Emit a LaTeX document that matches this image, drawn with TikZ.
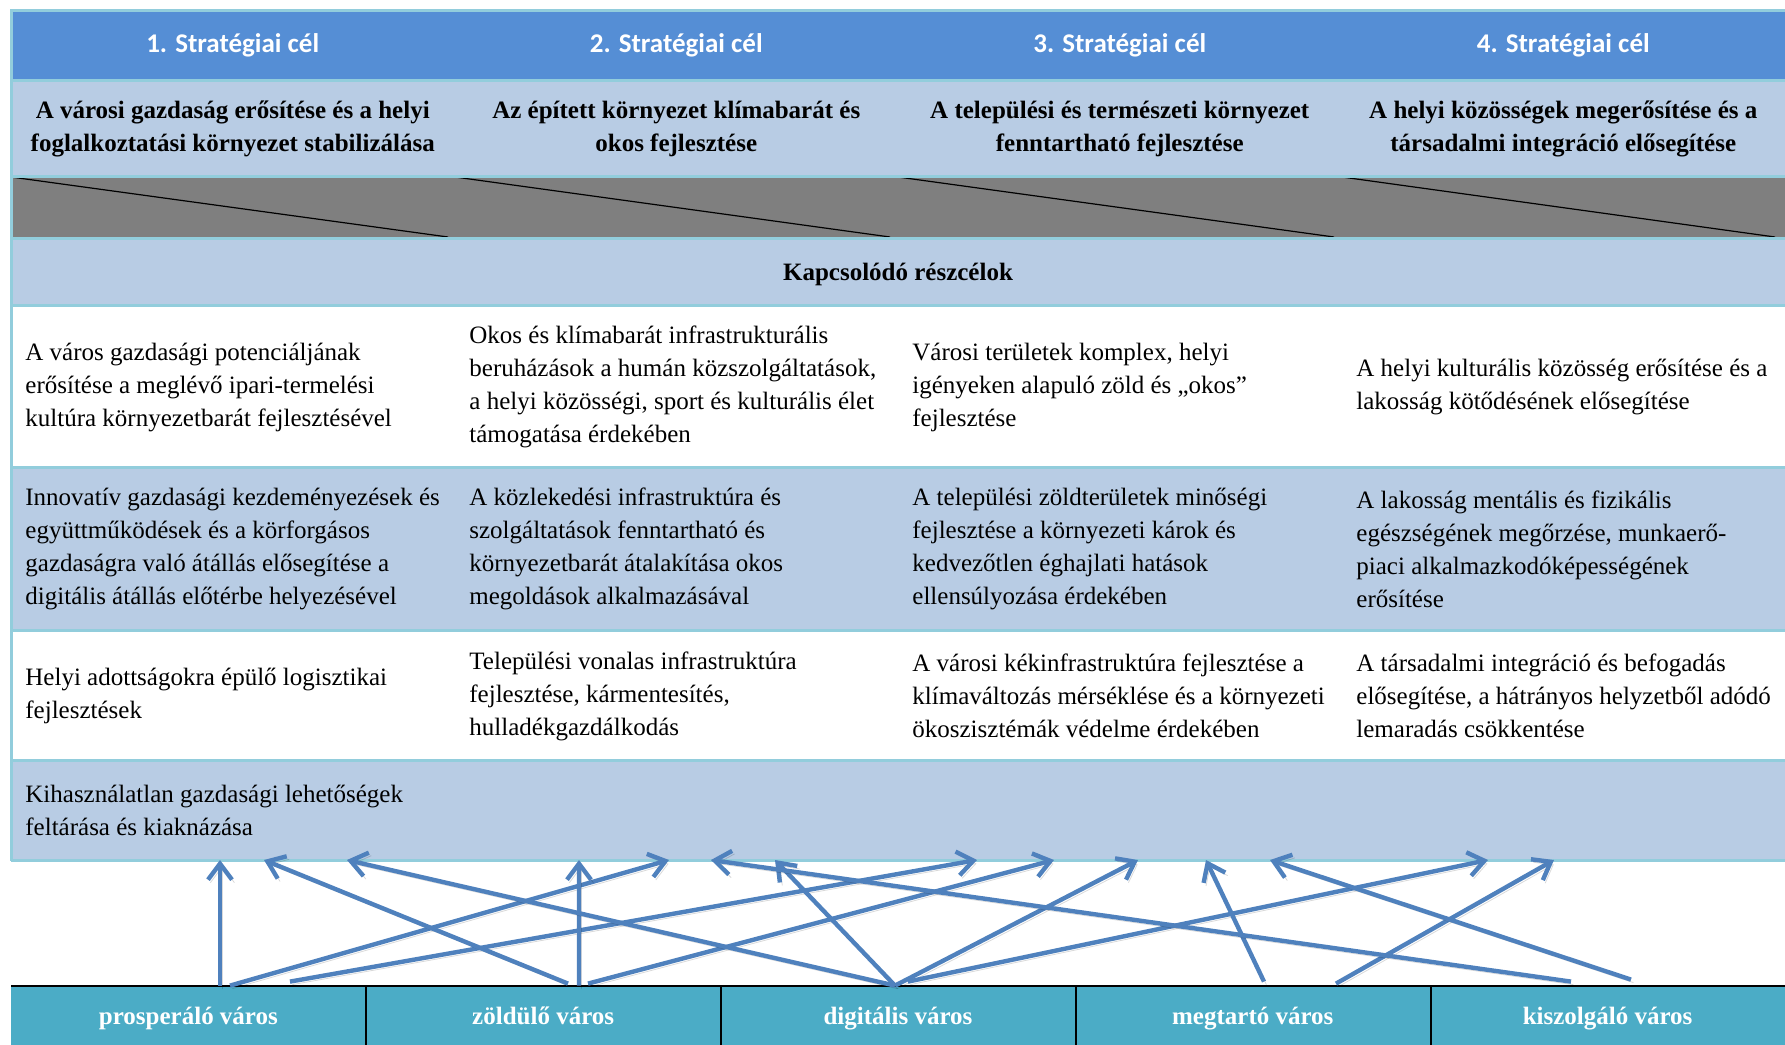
\documentclass[tikz,border=0pt]{standalone}
\usepackage{fontspec}
\setmainfont{Liberation Serif}
\newfontfamily\hdrfont{Carlito}
\usetikzlibrary{arrows.meta}

\definecolor{hdrblue}{RGB}{85,142,213}
\definecolor{rowblue}{RGB}{184,204,228}
\definecolor{rulecyan}{RGB}{146,205,220}
\definecolor{barteal}{RGB}{75,172,198}
\definecolor{linkblue}{RGB}{79,129,189}
\definecolor{cellgrey}{RGB}{127,127,127}

\tikzset{
  hdrtxt/.style={text=white, inner sep=0pt, font=\hdrfont\bfseries\fontsize{13.5}{16}\selectfont},
  goaltxt/.style={align=center, inner sep=0pt, font=\bfseries\fontsize{12.5}{16.5}\selectfont},
  celltxt/.style={anchor=west, align=left, inner sep=0pt, font=\fontsize{12.5}{16.5}\selectfont},
  citybox/.style={fill=barteal, text=white, minimum width=177.4pt, minimum height=29.5pt,
    inner sep=0pt, text height=10.4pt, text depth=1.6pt, font=\bfseries\fontsize{12.5}{15}\selectfont},
  rowrule/.style={draw=rulecyan, line width=1.5pt},
  link/.style={draw=linkblue, line width=2.2pt, -{Straight Barb[length=8pt,width=12pt]},
    preaction={draw=black, opacity=0.15, transform canvas={shift={(1.2pt,-1.5pt)}}}},
}

\begin{document}
\begin{tikzpicture}[x=0.5pt, y=-0.5pt] % one unit = one pixel of the sketch
    \useasboundingbox (0,0) rectangle (1785,1045);

    % Row backgrounds
    \fill[hdrblue] (11,10) rectangle (1785,80);
    \fill[rowblue] (11,80) rectangle (1785,176);
    \fill[cellgrey] (11,176) rectangle (1785,238);
    \fill[rowblue] (11,238) rectangle (1785,305);
    \fill[rowblue] (11,467) rectangle (1785,630);
    \fill[rowblue] (11,760) rectangle (1785,860);

    % Diagonals in the grey row
    \draw[black, line width=0.6pt] (11,177) -- (448,237);
    \draw[black, line width=0.6pt] (455,177) -- (890,237);
    \draw[black, line width=0.6pt] (898,177) -- (1334,237);
    \draw[black, line width=0.6pt] (1342,177) -- (1775,237);

    % Row rules
    \draw[rowrule] (11,10) -- (1785,10);
    \draw[rowrule] (11,80) -- (1785,80);
    \draw[rowrule] (11,176) -- (1785,176);
    \draw[rowrule] (11,238) -- (1785,238);
    \draw[rowrule] (11,305) -- (1785,305);
    \draw[rowrule] (11,467) -- (1785,467);
    \draw[rowrule] (11,630) -- (1785,630);
    \draw[rowrule] (11,760) -- (1785,760);
    \draw[rowrule] (11,860) -- (1785,860);
    \draw[rowrule] (11,9) -- (11,861);

    % Strategic goal headers
    \node[hdrtxt] (goal1) at (232.75,45) {1. Stratégiai cél};
    \node[hdrtxt] (goal2) at (676.25,45) {2. Stratégiai cél};
    \node[hdrtxt] (goal3) at (1119.75,45) {3. Stratégiai cél};
    \node[hdrtxt] (goal4) at (1563.25,45) {4. Stratégiai cél};

    % Goal titles
    \node[goaltxt] (title1) at (232.75,129) {A városi gazdaság erősítése és a helyi\\foglalkoztatási környezet stabilizálása};
    \node[goaltxt] (title2) at (676.25,129) {Az épített környezet klímabarát és\\okos fejlesztése};
    \node[goaltxt] (title3) at (1119.75,129) {A települési és természeti környezet\\fenntartható fejlesztése};
    \node[goaltxt] (title4) at (1563.25,129) {A helyi közösségek megerősítése és a\\társadalmi integráció elősegítése};

    \node[goaltxt] (subhead) at (898,274) {Kapcsolódó részcélok};

    % Sub-goals, first row
    \node[celltxt] (sub11) at (25,387) {A város gazdasági potenciáljának\\erősítése a meglévő ipari-termelési\\kultúra környezetbarát fejlesztésével};
    \node[celltxt] (sub12) at (469,387) {Okos és klímabarát infrastrukturális\\beruházások a humán közszolgáltatások,\\a helyi közösségi, sport és kulturális élet\\támogatása érdekében};
    \node[celltxt] (sub13) at (912,387) {Városi területek komplex, helyi\\igényeken alapuló zöld és „okos”\\fejlesztése};
    \node[celltxt] (sub14) at (1356,387) {A helyi kulturális közösség erősítése és a\\lakosság kötődésének elősegítése};

    % Sub-goals, second row
    \node[celltxt] (sub21) at (25,549) {Innovatív gazdasági kezdeményezések és\\együttműködések és a körforgásos\\gazdaságra való átállás elősegítése a\\digitális átállás előtérbe helyezésével};
    \node[celltxt] (sub22) at (469,549) {A közlekedési infrastruktúra és\\szolgáltatások fenntartható és\\környezetbarát átalakítása okos\\megoldások alkalmazásával};
    \node[celltxt] (sub23) at (912,549) {A települési zöldterületek minőségi\\fejlesztése a környezeti károk és\\kedvezőtlen éghajlati hatások\\ellensúlyozása érdekében};
    \node[celltxt] (sub24) at (1356,549) {A lakosság mentális és fizikális\\egészségének megőrzése, munkaerő-\\piaci alkalmazkodóképességének\\erősítése};

    % Sub-goals, third row
    \node[celltxt] (sub31) at (25,696) {Helyi adottságokra épülő logisztikai\\fejlesztések};
    \node[celltxt] (sub32) at (469,696) {Települési vonalas infrastruktúra\\fejlesztése, kármentesítés,\\hulladékgazdálkodás};
    \node[celltxt] (sub33) at (912,696) {A városi kékinfrastruktúra fejlesztése a\\klímaváltozás mérséklése és a környezeti\\ökoszisztémák védelme érdekében};
    \node[celltxt] (sub34) at (1356,696) {A társadalmi integráció és befogadás\\elősegítése, a hátrányos helyzetből adódó\\lemaradás csökkentése};

    % Sub-goals, fourth row
    \node[celltxt] (sub41) at (25,810) {Kihasználatlan gazdasági lehetőségek\\feltárása és kiaknázása};

    % City roles
    \node[citybox] (prosp) at (188.4,1015.5) {prosperáló város};
    \node[citybox] (zold) at (543.2,1015.5) {zöldülő város};
    \node[citybox] (digi) at (898,1015.5) {digitális város};
    \node[citybox] (megt) at (1252.8,1015.5) {megtartó város};
    \node[citybox] (kisz) at (1607.6,1015.5) {kiszolgáló város};
    \draw[black, line width=0.8pt] (11,986) -- (1785,986);
    \draw[black, line width=0.6pt] (366,986) -- (366,1045);
    \draw[black, line width=0.6pt] (721,986) -- (721,1045);
    \draw[black, line width=0.6pt] (1076,986) -- (1076,1045);
    \draw[black, line width=0.6pt] (1431,986) -- (1431,1045);

    % Arrow targets under the table
    \coordinate (tip1) at (220,860);
    \coordinate (tip2) at (264,860);
    \coordinate (tip3) at (347,860);
    \coordinate (tip4) at (579,860);
    \coordinate (tip5) at (669,860);
    \coordinate (tip6) at (711,860);
    \coordinate (tip7) at (775,860);
    \coordinate (tip8) at (977,860);
    \coordinate (tip9) at (1054,860);
    \coordinate (tip10) at (1138,860);
    \coordinate (tip11) at (1206,860);
    \coordinate (tip12) at (1270,860);
    \coordinate (tip13) at (1488,860);
    \coordinate (tip14) at (1554,860);

    % Links from city roles to sub-goals
    \draw[link] ([xshift=15.8pt]prosp.north) -- (tip1);
    \draw[link] ([xshift=20.8pt]prosp.north) -- (tip5);
    \draw[link] ([xshift=50.8pt,yshift=2pt]prosp.north) -- (tip8);
    \draw[link] ([xshift=17.9pt]zold.north) -- (tip4);
    \draw[link] ([xshift=12.4pt,yshift=1pt]zold.north) -- (tip2);
    \draw[link] ([xshift=22.4pt,yshift=1pt]zold.north) -- (tip9);
    \draw[link] ([xshift=-1.5pt]digi.north) -- (tip3);
    \draw[link] ([xshift=-1.5pt]digi.north) -- (tip7);
    \draw[link] ([xshift=-1.5pt]digi.north) -- (tip10);
    \draw[link] ([xshift=5pt,yshift=2pt]digi.north) -- (tip13);
    \draw[link] ([xshift=5.6pt,yshift=2pt]megt.north) -- (tip11);
    \draw[link] ([xshift=41.6pt,yshift=1pt]megt.north) -- (tip14);
    \draw[link] ([xshift=11.7pt,yshift=3pt]kisz.north) -- (tip12);
    \draw[link] ([xshift=-18.3pt,yshift=2pt]kisz.north) -- (tip6);
\end{tikzpicture}
\end{document}
